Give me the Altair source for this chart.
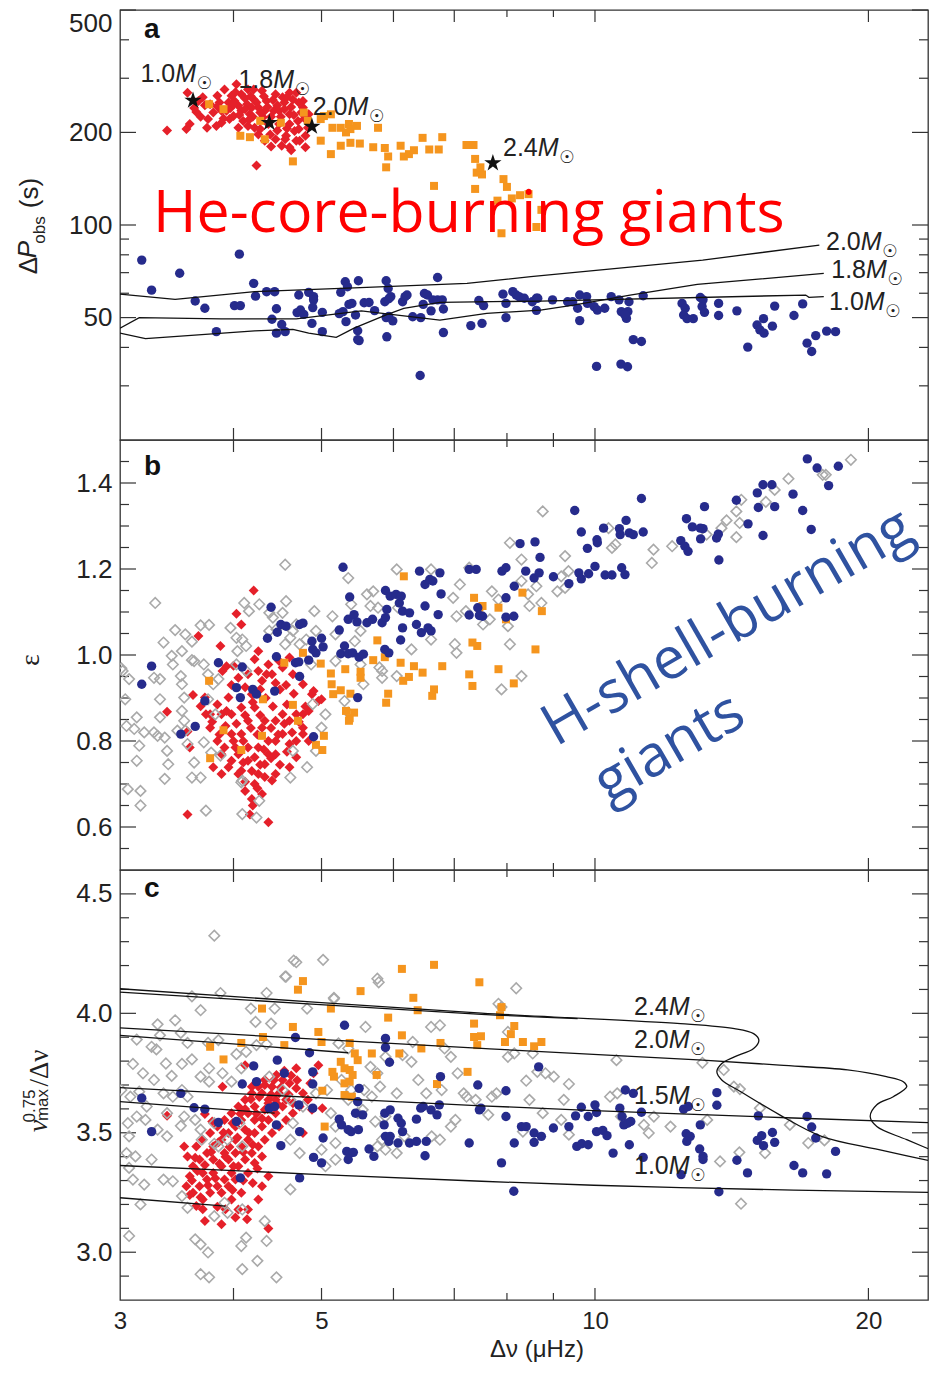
import altair as alt
import pandas as pd

# ---------------------------------------------------------------- sizes
W = 808
HA, HB, HC = 430, 430, 430
DNU_MIN, DNU_MAX = 3.0, 23.26

# ---------------------------------------------------------------- panel a data (Delta nu [muHz], Delta P_obs [s])
A_RED = [(3.38,203),(3.55,205),(3.58,213),(3.56,269),(3.66,253),(3.64,233),(3.75,221),(3.77,247),(3.83,210),(3.84,263),
         (3.88,235),(3.91,276),(3.95,250),(3.98,263),(4.00,226),(4.03,287),(4.05,244),(4.08,266),(4.10,218),(4.14,247),
         (4.15,276),(4.17,229),(4.21,256),(4.22,207),(4.24,156),(4.26,241),(4.30,273),(4.31,224),(4.35,253),(4.39,197),
         (4.43,235),(4.45,266),(4.49,213),(4.52,181),(4.55,250),(4.57,195),(4.61,229),(4.63,175),(4.65,256),(4.67,202),
         (4.71,218),(4.73,188),(4.77,241),(4.80,179),(4.83,207),(3.70,260),(3.93,235),(4.01,253),(4.08,235),(4.19,241),
         (4.33,235),(4.49,235),(4.53,260),(3.88,215),(4.15,210),(4.37,213),(4.61,213),(4.69,188),(4.45,190),(4.26,197),
         (4.05,207),(3.96,221),(4.21,276),(4.61,269),(4.69,269),(4.77,253),(4.84,229),(4.33,188),(4.61,179),(3.74,207),
         (3.62,240),(3.68,225),(3.72,245),(3.80,232),(3.86,250),(3.90,222),(3.97,240),(4.02,270),(4.06,228),(4.12,258),
         (4.12,238),(4.18,262),(4.20,225),(4.24,250),(4.28,232),(4.32,262),(4.36,242),(4.40,225),(4.42,255),(4.47,245),
         (4.51,225),(4.55,238),(4.58,260),(4.63,242),(4.66,228),(4.72,250),(4.75,232),(4.79,222),(3.84,243),(4.00,247),
         (4.16,220),(4.28,205),(4.47,203),(4.58,206),(4.72,205),(4.40,180),(4.56,190),(4.80,195)]
A_ORANGE = [(3.76,247),(3.90,238),(4.07,195),(4.17,193),(4.28,218),(4.33,190),(4.51,215),(4.65,161),(4.78,232),(4.83,218),
            (4.99,188),(5.12,170),(4.99,221),(5.03,226),(5.12,229),(5.14,207),(5.25,207),(5.36,213),(5.38,205),(5.47,210),
            (5.32,200),(5.38,185),(5.51,184),(5.25,181),(5.70,179),(5.77,207),(5.87,178),(5.92,167),(5.89,154),(6.11,181),
            (6.16,167),(6.24,170),(6.32,175),(6.46,192),(6.57,176),(6.65,134),(6.73,176),(6.79,193),(7.22,182),(7.35,182),
            (7.38,164),(7.41,148),(7.51,146),(7.48,154),(7.38,131),(7.93,141),(8.00,133),(8.10,122),(8.27,125),(8.45,126),
            (7.81,120),(7.89,94),(8.73,112),(8.62,98.5)]
A_BLUE = [(3.17,76.9),(3.25,61.4),(3.49,69.7),(3.63,56.6),(3.72,53.6),(3.83,45.0),(4.06,80.4),(4.01,54.7),(4.07,54.7),(4.21,64.6),
          (4.23,58.7),(4.35,60.7),(4.44,60.7),(4.41,49.4),(4.46,53.4),(4.46,44.5),(4.56,45.0),(4.52,47.5),(4.72,59.2),(4.70,51.9),
          (4.74,52.9),(4.78,51.2),(4.84,60.4),(4.90,58.5),(4.90,57.1),(4.89,53.9),(4.88,47.9),(5.01,52.0),(5.01,45.0),(5.23,51.5),
          (5.28,52.3),(5.25,60.4),(5.31,65.4),(5.34,63.0),(5.32,48.5),(5.36,55.2),(5.40,55.6),(5.45,51.0),(5.49,65.9),(5.48,45.3),
          (5.48,42.4),(5.50,42.1),(5.57,55.9),(5.64,56.0),(5.72,52.7),(5.89,65.9),(5.92,62.2),(5.87,56.3),(5.93,57.6),(5.96,58.5),
          (5.89,50.0),(5.93,50.4),(5.99,48.8),(5.90,43.3),(6.14,56.3),(6.18,58.5),(6.21,59.2),(6.30,50.3),(6.43,50.0),(6.42,32.4),
          (6.49,59.9),(6.54,59.2),(6.47,55.2),(6.60,52.6),(6.63,57.1),(6.71,57.1),(6.79,57.1),(6.71,67.5),(6.81,53.3),(6.81,44.7),
          (7.30,47.1),(7.51,47.9),(7.45,56.8),(7.54,54.7),(7.92,59.6),(7.98,55.6),(7.98,50.0),(8.12,60.7),(8.19,59.2),(8.25,58.5),
          (8.36,57.8),(8.53,56.3),(8.62,57.8),(8.62,52.8),(8.65,57.8),(8.98,57.1),(9.33,56.3),(9.45,56.3),(9.57,53.6),(9.62,59.2),
          (9.79,58.5),(9.62,48.9),(9.81,55.6),(9.98,54.3),(10.06,52.9),(10.25,53.6),(10.42,58.5),(10.63,57.1),(10.69,52.3),(10.87,52.3),
          (10.83,49.7),(10.78,51.2),(10.90,56.3),(11.30,58.9),(11.02,42.4),(11.25,41.8),(10.04,34.7),(10.68,35.3),(10.86,34.6),(12.47,55.6),
          (12.57,53.6),(12.52,51.0),(12.63,49.6),(12.83,49.6),(13.06,58.1),(13.15,57.1),(13.12,54.3),(13.20,52.0),(13.68,55.6),(13.68,50.8),
          (14.33,52.6),(14.73,40.1),(15.08,47.3),(15.19,45.6),(15.35,44.5),(15.33,49.6),(15.68,46.9),(15.77,54.5),(16.56,50.8),(16.93,55.4),
          (17.12,41.3),(17.50,43.7),(17.32,38.8),(17.99,45.2),(18.40,45.0)]
A_STARS = [(3.61,254),(4.38,215),(4.88,209),(7.72,159)]
A_STAR_LABELS = [(3.16,310,"1.0"),(4.05,297,"1.8"),(4.89,241,"2.0"),(7.92,178,"2.4")]
A_TRACKS = {
    "2.0": [(3.00,59.6),(3.45,57.3),(4.22,60.7),(5.43,62.5),(7.23,64.6),(8.50,67.9),(13.14,76.9),(17.66,86.0)],
    "1.8": [(3.00,46.2),(3.15,50.0),(3.88,49.5),(4.69,49.5),(5.53,52.6),(6.03,51.0),(6.75,49.1),(7.60,51.6),(8.71,52.9),
            (9.47,54.9),(10.93,59.2),(12.96,64.1),(17.86,69.6)],
    "1.0": [(3.00,44.5),(3.20,42.7),(4.22,45.3),(4.65,45.8),(4.84,44.5),(5.19,43.1),(5.43,46.2),(5.89,51.0),(6.16,53.6),
            (6.75,56.0),(8.71,56.6),(17.06,59.2),(17.20,58.2),(17.86,58.5)],
}
A_TRACK_LABELS = [(17.96,88.1,"2.0"),(18.2,71.5,"1.8"),(18.1,56.3,"1.0")]

# ---------------------------------------------------------------- panel b data (Delta nu, epsilon)
B_GREY = [(4.56,1.210),(3.28,1.121),(3.45,1.058),(3.54,1.048),(3.60,1.031),(3.68,1.069),(3.76,1.070),(3.35,1.029),(3.42,0.998),(3.51,1.009),
          (3.60,0.988),(3.43,0.978),(3.01,0.969),(3.07,0.944),(3.02,0.963),(3.04,0.897),(3.13,0.855),(3.05,0.835),(3.11,0.828),(3.19,0.820),
          (3.15,0.789),(3.13,0.754),(3.06,0.688),(3.16,0.684),(3.16,0.650),(3.27,0.820),(3.30,0.812),(3.27,0.947),(3.32,0.944),(3.32,0.897),
          (3.32,0.855),(3.36,0.808),(3.38,0.777),(3.39,0.746),(3.36,0.712),(3.50,0.951),(3.51,0.932),(3.53,0.901),(3.51,0.870),(3.53,0.847),
          (3.47,0.824),(3.54,0.824),(3.56,0.793),(3.60,0.715),(3.68,0.715),(3.73,0.638),(3.62,0.750),(3.62,0.986),(3.71,0.978),(3.75,0.955),
          (3.80,0.932),(3.85,0.944),(3.75,0.897),(3.82,0.862),(3.71,0.797),(3.78,0.773),(3.87,0.766),(3.97,1.063),(4.03,1.040),(4.09,1.036),
          (4.13,1.021),(4.04,1.009),(4.03,0.978),(4.13,0.963),(4.09,0.708),(4.09,0.630),(4.08,0.704),(4.27,0.661),(4.24,0.622),(4.11,1.121),
          (4.16,1.102),(4.27,1.118),(4.38,1.098),(4.42,1.087),(4.53,1.098),(4.57,1.125),(4.38,1.056),(4.46,1.060),(4.56,1.025),(4.62,1.040),
          (4.65,1.056),(4.69,1.071),(4.73,1.025),(4.81,1.036),(4.91,1.102),(4.93,1.056),(4.87,0.978),(4.89,0.886),(5.05,0.862),(5.00,0.831),
          (4.93,0.777),(4.82,0.739),(4.65,0.777),(4.62,0.715),(5.14,1.090),(5.18,1.048),(5.35,1.179),(5.39,1.118),(5.44,1.032),(5.52,1.056),
          (5.61,1.141),(5.66,1.114),(5.70,1.148),(5.77,1.110),(5.79,0.971),(5.83,0.947),(6.05,1.199),(6.07,1.110),(6.28,1.013),(6.60,1.199),
          (6.60,1.036),(6.98,1.133),(7.04,1.090),(7.10,1.164),(7.27,1.203),(7.21,1.102),(7.01,1.025),(7.04,1.005),(5.18,0.986),(5.30,0.893),
          (5.35,0.866),(5.52,0.978),(5.83,0.963),(6.05,0.951),(5.56,0.932),(7.70,1.148),(7.83,1.129),(8.06,1.261),(8.30,1.222),(8.30,1.172),
          (8.44,1.141),(8.47,1.114),(8.62,1.160),(8.76,1.334),(8.73,1.121),(9.09,1.148),(9.27,1.230),(9.27,1.156),(9.35,1.195),(9.18,1.183),
          (7.53,1.071),(7.66,1.083),(8.02,1.067),(8.06,1.025),(8.30,0.951),(7.89,0.920),(10.35,1.295),(10.44,1.249),(10.53,1.257),(11.55,1.214),
          (11.60,1.245),(12.16,1.253),(13.27,1.280),(13.78,1.295),(13.96,1.313),(14.31,1.334),(14.49,1.361),(14.31,1.274),(14.43,1.307),(15.42,1.356),
          (15.77,1.384),(16.33,1.410),(17.81,1.419),(17.95,1.419),(19.13,1.454)]
B_RED = [(4.21,1.150),(4.03,1.096),(4.08,1.071),(3.66,1.044),(3.87,1.021),(4.26,1.009),(4.22,0.990),(3.93,0.974),(3.89,0.963),(3.38,0.868),
         (3.61,0.907),(3.68,0.881),(3.73,0.862),(3.56,0.822),(3.58,0.785),(3.77,0.831),(3.84,0.800),(3.88,0.769),(3.95,0.739),(4.02,0.785),
         (4.08,0.816),(4.15,0.847),(4.22,0.878),(4.30,0.831),(4.37,0.800),(4.45,0.769),(4.53,0.816),(4.61,0.847),(4.69,0.800),(4.77,0.831),
         (4.84,0.800),(4.05,0.723),(4.15,0.754),(4.26,0.723),(4.33,0.746),(4.41,0.708),(4.12,0.684),(4.19,0.665),(4.30,0.677),(4.17,0.629),
         (4.37,0.611),(3.56,0.629),(3.88,0.862),(3.98,0.862),(4.08,0.878),(4.19,0.909),(4.30,0.940),(4.41,0.955),(4.53,0.971),(4.65,0.955),
         (4.77,0.932),(4.88,0.909),(4.96,0.893),(5.00,0.897),(4.90,0.916),(4.61,0.994),(4.49,0.986),(4.37,0.978),(4.26,0.963),(4.15,0.955),
         (4.05,0.947),(3.95,0.901),(3.84,0.885),(3.77,0.862),(3.72,0.901),(4.77,0.862),(4.69,0.862),(4.84,0.870),(4.61,0.793),(4.45,0.800),
         (4.37,0.769),(4.26,0.785),(3.98,0.816),(3.91,0.785),(4.05,0.769),(3.80,0.739),(3.88,0.723),(3.98,0.754),(4.08,0.731),(4.22,0.762),
         (4.33,0.847),(4.45,0.847),(4.53,0.862),(4.69,0.762),(4.77,0.816),(4.22,0.700),(4.33,0.716),(4.45,0.723),(4.15,0.785),(4.61,0.739),
         (3.79,0.845),(3.86,0.815),(3.92,0.835),(3.93,0.870),(4.00,0.800),(4.03,0.840),(4.10,0.800),(4.12,0.860),(4.18,0.830),(4.20,0.890),
         (4.25,0.815),(4.28,0.860),(4.32,0.780),(4.34,0.900),(4.40,0.830),(4.42,0.880),(4.48,0.815),(4.50,0.920),(4.55,0.840),(4.58,0.885),
         (4.64,0.820),(4.66,0.910),(4.72,0.845),(4.80,0.880),(4.10,0.750),(4.19,0.730),(4.28,0.745),(4.40,0.760),(4.50,0.745),(4.12,0.705),
         (4.25,0.690),(4.20,0.650),(3.98,0.930),(4.12,0.925),(4.28,0.920),(4.45,0.935),(4.57,0.930),(4.35,0.955),(4.00,0.975),(4.58,0.775)]
B_ORANGE = [(3.76,0.940),(3.90,0.825),(3.77,0.760),(4.08,0.779),(4.30,0.812),(4.31,0.897),(4.55,0.982),(4.65,0.884),(4.71,0.847),(4.77,1.005),
            (4.99,0.980),(5.03,0.812),(5.01,0.779),(4.93,0.791),(5.12,0.957),(5.13,0.932),(5.15,0.909),(5.25,0.918),(5.38,0.910),(5.31,0.967),
            (5.32,0.870),(5.36,0.847),(5.43,0.866),(5.37,0.853),(5.52,0.961),(5.52,0.947),(5.70,0.988),(5.76,1.034),(5.87,0.995),(5.89,0.889),
            (5.92,0.910),(6.11,0.982),(6.15,0.940),(6.24,0.949),(6.32,0.974),(6.46,0.959),(6.16,1.183),(6.62,0.905),(6.65,0.920),(6.79,0.974),
            (7.27,0.955),(7.33,0.928),(7.36,1.133),(7.33,1.029),(7.42,1.021),(7.46,1.110),(7.52,1.114),(7.83,1.110),(7.98,1.083),(8.32,1.145),
            (8.74,1.102),(8.60,1.013),(7.83,0.967),(8.14,0.934)]
B_BLUE = [(3.17,0.932),(3.25,0.974),(3.50,0.816),(3.63,0.834),(3.72,0.893),(3.85,0.982),(4.03,0.924),(4.07,0.901),(4.09,0.972),(4.20,0.920),
          (4.24,0.909),(4.36,1.039),(4.40,1.111),(4.44,0.916),(4.46,0.996),(4.47,1.053),(4.51,1.071),(4.57,1.067),(4.68,0.982),(4.72,0.984),
          (4.73,0.950),(4.73,1.071),(4.77,1.074),(4.84,0.988),(4.88,1.032),(4.89,1.013),(4.93,1.005),(4.90,0.810),(5.00,1.039),(5.02,1.019),
          (5.23,1.058),(5.28,1.204),(5.30,1.021),(5.25,1.003),(5.35,1.003),(5.41,1.005),(5.50,0.995),(5.56,1.002),(5.35,1.083),(5.43,1.094),
          (5.47,1.077),(5.37,1.135),(5.48,0.901),(5.61,1.075),(5.69,1.083),(5.83,1.075),(5.90,1.106),(5.88,1.150),(5.88,1.087),(5.87,1.013),
          (5.93,1.005),(5.95,1.137),(6.04,1.141),(6.09,1.121),(6.12,1.137),(6.14,1.102),(6.25,1.098),(6.11,1.035),(6.14,1.063),(6.36,1.071),
          (6.41,1.195),(6.50,1.164),(6.58,1.176),(6.63,1.172),(6.75,1.191),(6.50,1.114),(6.44,1.052),(6.55,1.063),(6.60,1.056),(6.72,1.094),
          (6.77,1.142),(7.27,1.199),(7.27,1.093),(7.43,1.110),(7.40,1.199),(7.52,1.090),(7.46,1.092),(7.90,1.195),(7.98,1.203),(7.98,1.133),
          (7.98,1.088),(8.14,1.090),(8.15,1.160),(8.27,1.259),(8.59,1.263),(8.39,1.195),(8.57,1.179),(8.68,1.191),(8.70,1.227),(9.00,1.182),
          (9.36,1.166),(9.50,1.336),(9.60,1.191),(9.66,1.177),(9.84,1.189),(9.66,1.286),(9.81,1.248),(10.00,1.206),(10.05,1.268),(10.06,1.261),
          (10.22,1.295),(10.26,1.186),(10.44,1.186),(10.64,1.294),(10.66,1.280),(10.82,1.313),(10.91,1.284),(11.02,1.280),(10.70,1.203),(10.79,1.187),
          (11.25,1.364),(11.30,1.286),(12.43,1.266),(12.56,1.253),(12.66,1.241),(12.61,1.317),(12.80,1.298),(13.06,1.295),(13.15,1.294),(13.07,1.270),
          (13.20,1.345),(13.61,1.272),(13.67,1.281),(13.69,1.221),(14.31,1.360),(14.74,1.305),(15.09,1.377),(15.31,1.396),(15.66,1.396),(15.13,1.343),
          (15.77,1.345),(15.31,1.278),(16.52,1.374),(16.93,1.336),(17.13,1.456),(17.56,1.435),(18.53,1.439),(17.30,1.292),(18.08,1.394)]

# ---------------------------------------------------------------- panel c data (Delta nu, numax^0.75 / Delta nu)
C_GREY = [(3.81,4.325),(4.66,4.221),(5.02,4.224),(4.56,4.154),(5.76,4.145),(5.78,4.130),(3.60,4.071),(3.68,4.013),(3.87,4.085),(4.18,4.020),
          (4.23,3.964),(4.35,4.085),(4.40,3.957),(4.44,4.020),(4.82,4.020),(5.16,4.065),(3.30,3.954),(3.45,3.971),(3.50,3.918),(3.32,3.908),
          (3.13,3.890),(3.25,3.860),(3.29,3.849),(3.56,3.876),(3.75,3.876),(3.85,3.888),(4.03,3.829),(4.13,3.839),(4.24,3.867),(4.35,3.871),
          (3.10,3.788),(3.18,3.749),(3.27,3.721),(3.37,3.790),(3.42,3.738),(3.51,3.788),(3.60,3.807),(3.68,3.735),(3.76,3.770),(3.76,3.714),
          (3.89,3.749),(3.98,3.714),(4.08,3.770),(3.01,3.679),(3.08,3.651),(3.15,3.672),(3.21,3.610),(3.35,3.665),(3.43,3.651),(3.51,3.679),
          (3.56,3.651),(3.06,3.540),(3.13,3.568),(3.07,3.485),(3.20,3.554),(3.30,3.513),(3.38,3.485),(3.38,3.582),(3.50,3.529),(3.53,3.568),
          (3.63,3.554),(3.68,3.513),(3.81,3.540),(3.69,3.471),(3.81,3.454),(3.85,3.443),(3.94,3.471),(4.09,3.443),(4.06,3.540),(3.05,3.415),
          (3.12,3.401),(3.07,3.353),(3.10,3.304),(3.19,3.283),(3.16,3.200),(3.07,3.068),(3.25,3.388),(3.35,3.304),(3.43,3.297),(3.51,3.235),
          (3.56,3.186),(3.63,3.054),(3.68,3.033),(3.75,2.999),(3.81,3.151),(3.91,3.207),(3.94,3.165),(4.09,3.179),(4.08,3.026),(4.13,3.061),
          (4.25,2.964),(4.09,2.929),(3.68,2.908),(3.76,2.895),(4.46,2.895),(4.35,3.047),(4.33,3.130),(4.62,3.263),(4.38,3.735),(4.53,3.679),
          (4.62,3.638),(4.65,3.540),(4.62,3.471),(4.73,3.415),(4.77,3.610),(4.93,3.665),(5.07,3.679),(5.12,3.582),(5.18,3.526),(5.18,3.457),
          (5.00,3.429),(5.18,3.388),(5.05,3.360),(5.26,3.721),(5.39,3.679),(5.35,3.638),(5.48,3.582),(5.55,3.596),(5.57,3.679),(5.68,3.651),
          (5.76,3.749),(5.80,3.693),(5.73,3.547),(5.88,3.568),(5.83,3.471),(5.76,3.443),(5.88,3.429),(6.05,3.415),(6.17,3.485),(6.05,3.665),
          (6.28,3.797),(6.39,3.721),(6.52,3.665),(6.78,3.679),(6.75,3.471),(6.61,3.485),(6.94,3.526),(7.02,3.554),(7.17,3.665),(7.22,3.651),
          (5.22,3.874),(5.35,3.853),(5.59,3.943),(5.66,3.776),(5.88,3.818),(6.14,3.825),(6.30,3.880),(6.60,3.943),(6.75,3.950),(6.83,3.853),
          (6.94,3.818),(7.06,3.749),(5.16,4.061),(8.19,4.105),(7.83,4.040),(7.89,4.026),(8.02,3.922),(8.15,3.832),(8.02,3.818),(8.54,3.832),
          (8.40,3.718),(8.64,3.755),(8.82,3.749),(9.01,3.735),(9.36,3.704),(9.24,3.638),(8.76,3.582),(9.18,3.554),(9.36,3.492),(8.47,3.638),
          (8.33,3.505),(7.63,3.575),(7.70,3.651),(7.79,3.665),(7.39,3.638),(10.56,3.804),(10.39,3.651),(10.58,3.665),(10.68,3.568),(11.32,3.533),
          (11.46,3.499),(11.61,3.568),(12.11,3.526),(13.13,3.793),(13.29,3.554),(13.86,3.763),(14.22,3.693),(14.44,3.683),(15.19,3.603),(16.39,3.533),
          (17.17,3.457),(17.89,3.468),(13.73,3.380),(14.42,3.418),(15.39,3.415),(14.48,3.203),(4.69,4.214),(4.57,4.154)]
C_RED = [(4.12,3.783),(4.19,3.693),(4.69,3.770),(4.96,3.783),(4.90,3.749),(3.89,3.693),(3.38,3.571),(3.72,3.579),(3.79,3.547),
         (4.46,3.742),(4.53,3.721),(4.61,3.707),(4.69,3.686),(4.77,3.665),(4.83,3.638),(4.73,3.610),(4.65,3.582),(4.57,3.554),(4.49,3.526),
         (4.41,3.499),(4.33,3.471),(4.26,3.443),(4.19,3.415),(4.12,3.388),(4.05,3.360),(3.98,3.332),(3.91,3.304),(3.84,3.276),(3.77,3.249),
         (3.70,3.221),(3.64,3.193),(4.30,3.665),(4.37,3.638),(4.22,3.610),(4.15,3.582),(4.08,3.554),(4.02,3.526),(3.95,3.499),(3.88,3.471),
         (3.80,3.443),(3.74,3.415),(3.67,3.388),(3.61,3.360),(3.58,3.318),(3.55,3.276),(3.53,3.443),(3.56,3.401),(3.64,3.443),(3.70,3.471),
         (3.77,3.499),(3.84,3.526),(3.91,3.554),(3.98,3.582),(4.05,3.610),(4.12,3.638),(4.19,3.665),(4.26,3.693),(4.33,3.721),(4.41,3.693),
         (4.49,3.665),(4.57,3.638),(4.65,3.624),(4.53,3.610),(4.45,3.582),(4.37,3.554),(4.30,3.526),(4.22,3.499),(4.15,3.471),(4.08,3.443),
         (4.02,3.415),(3.95,3.388),(3.88,3.360),(3.80,3.332),(3.74,3.304),(3.67,3.276),(3.61,3.249),(3.70,3.332),(3.80,3.388),(3.91,3.415),
         (4.02,3.471),(4.12,3.513),(4.22,3.554),(4.33,3.596),(4.45,3.638),(3.88,3.249),(3.95,3.276),(4.02,3.304),(3.98,3.221),(4.08,3.249),
         (4.15,3.332),(4.22,3.374),(4.30,3.401),(4.05,3.179),(4.15,3.179),(4.30,3.276),(4.37,3.318),(4.26,3.221),(3.72,3.131),(3.88,3.117),
         (4.02,3.145),(4.14,3.138),(4.37,3.099),(4.77,3.499),(4.88,3.596),(5.01,3.603),(4.86,3.707),(4.37,3.624),(3.63,3.395),
         (3.60,3.300),(3.65,3.340),(3.68,3.230),(3.72,3.365),(3.75,3.280),(3.78,3.420),(3.82,3.310),(3.85,3.460),(3.86,3.370),(3.90,3.500),
         (3.92,3.400),(3.96,3.440),(3.99,3.540),(4.00,3.360),(4.04,3.480),(4.07,3.580),(4.10,3.420),(4.12,3.600),(4.16,3.500),(4.18,3.640),
         (4.20,3.450),(4.24,3.580),(4.27,3.650),(4.30,3.560),(4.33,3.700),(4.36,3.600),(4.40,3.660),(4.43,3.720),(4.47,3.620),(4.51,3.690),
         (4.55,3.760),(4.60,3.660),(4.63,3.740),(4.70,3.720),(3.92,3.180),(3.99,3.260),(4.10,3.300),(4.20,3.290),(4.25,3.350),(3.84,3.190),
         (3.70,3.180),(3.58,3.240)]
C_ORANGE = [(3.77,3.860),(3.90,3.807),(4.30,4.020),(4.31,3.901),(4.08,3.876),(4.65,3.943),(4.55,3.867),(4.71,4.099),(4.77,4.135),(4.96,3.922),
            (5.00,3.880),(5.01,3.676),(5.04,3.526),(5.12,4.020),(5.14,3.755),(5.16,3.735),(5.25,3.797),(5.30,3.770),(5.37,3.763),(5.41,3.742),
            (5.30,3.707),(5.37,3.714),(5.40,3.651),(5.30,3.658),(5.37,3.876),(5.44,3.832),(5.48,3.804),(5.52,4.093),(5.68,3.832),(5.75,3.742),
            (5.92,3.982),(6.09,3.832),(6.13,3.908),(6.13,4.186),(6.31,4.065),(6.38,4.013),(6.44,3.853),(6.65,4.203),(6.76,3.876),(6.70,3.704),
            (7.24,3.755),(7.36,3.957),(7.36,3.901),(7.42,3.867),(7.46,4.130),(7.89,4.026),(7.86,3.992),(7.49,3.904),(7.96,3.880),(8.08,3.913),
            (8.15,3.947),(8.33,3.880),(8.57,3.862),(8.73,3.880)]
C_BLUE = [(3.17,3.645),(3.25,3.505),(3.50,3.665),(3.62,3.605),(3.72,3.599),(3.85,3.543),(4.03,3.547),(4.09,3.704),(4.07,3.311),(4.21,3.780),
          (4.24,3.714),(4.38,3.603),(4.44,3.610),(4.47,3.804),(4.55,3.749),(4.46,3.533),(4.51,3.446),(4.68,3.899),(4.72,3.617),(4.73,3.505),
          (4.73,3.311),(4.85,3.835),(4.89,3.755),(4.89,3.704),(4.89,3.603),(4.90,3.397),(5.02,3.478),(5.00,3.374),(5.30,3.950),(5.23,3.557),
          (5.26,3.533),(5.35,3.513),(5.39,3.505),(5.49,3.513),(5.33,3.422),(5.37,3.415),(5.42,3.418),(5.35,3.388),(5.50,3.686),(5.48,3.630),
          (5.45,3.582),(5.55,3.575),(5.64,3.432),(5.71,3.401),(5.88,3.895),(5.88,3.857),(5.94,3.795),(5.86,3.533),(5.88,3.485),(5.93,3.464),
          (5.95,3.485),(5.87,3.582),(5.95,3.596),(6.07,3.561),(6.12,3.540),(6.14,3.505),(6.07,3.457),(6.25,3.457),(6.36,3.464),(6.36,3.557),
          (6.43,3.603),(6.47,3.610),(6.50,3.404),(6.52,3.464),(6.60,3.596),(6.70,3.575),(6.74,3.617),(6.76,3.735),(7.27,3.457),(7.43,3.700),
          (7.46,3.596),(7.49,3.603),(7.89,3.374),(7.98,3.676),(7.98,3.568),(8.15,3.457),(8.14,3.255),(8.30,3.526),(8.40,3.526),(8.57,3.499),
          (8.57,3.460),(8.73,3.485),(8.67,3.776),(9.00,3.520),(9.36,3.526),(9.52,3.571),(9.55,3.443),(9.67,3.454),(9.83,3.450),(9.66,3.607),
          (9.83,3.568),(10.00,3.617),(10.04,3.585),(10.04,3.505),(10.20,3.510),(10.31,3.488),(10.47,3.415),(10.65,3.603),(10.71,3.568),(10.76,3.533),
          (10.86,3.540),(10.95,3.547),(10.80,3.679),(11.02,3.665),(10.91,3.450),(11.25,3.586),(11.30,3.397),(12.44,3.325),(12.52,3.599),(12.67,3.610),
          (12.60,3.496),(12.73,3.485),(12.62,3.464),(13.04,3.432),(13.15,3.401),(13.15,3.388),(13.06,3.533),(13.62,3.668),(13.62,3.615),(13.69,3.253),
          (14.33,3.385),(14.72,3.332),(15.13,3.571),(15.09,3.468),(15.26,3.488),(15.33,3.446),(15.68,3.501),(15.77,3.460),(16.56,3.363),(16.93,3.332),
          (17.12,3.568),(17.32,3.524),(17.50,3.478),(17.99,3.328),(18.40,3.422)]
C_TRACKS = {
    "2.4": [(3.00,4.103),(7.50,4.001),(12.42,3.957),(14.24,3.936),(14.95,3.915),(15.15,3.888),(14.95,3.853),(14.24,3.818),
            (13.79,3.790),(13.62,3.755),(13.79,3.721),(14.47,3.672),(15.97,3.575),(17.76,3.485),(20.54,3.429),(24.35,3.368)],
    "2.4b": [(3.00,4.089),(7.50,3.996),(9.57,3.978)],
    "2.0": [(3.00,3.939),(7.50,3.853),(13.14,3.804),(15.97,3.783),(18.97,3.763),(20.93,3.735),(21.85,3.714),(22.04,3.693),
            (21.30,3.651),(20.43,3.617),(20.09,3.568),(20.43,3.526),(22.04,3.471),(24.35,3.402)],
    "2.0b": [(3.00,3.908),(5.35,3.835)],
    "1.5": [(3.00,3.689),(7.50,3.613),(12.42,3.579),(24.35,3.540)],
    "1.5b": [(3.00,3.630),(4.44,3.582)],
    "1.0": [(3.00,3.363),(7.50,3.297),(12.42,3.270),(24.35,3.249)],
    "1.0b": [(3.00,3.228),(3.92,3.193)],
}
C_TRACK_LABELS = [(11.04,4.026,"2.4"),(11.04,3.890,"2.0"),(11.04,3.656,"1.5"),(11.04,3.359,"1.0")]

# ---------------------------------------------------------------- ticks
X_MAJOR, X_MINOR, X_LABELS = [4, 5, 6, 7, 10, 20], [8, 9], [3, 5, 10, 20]
A_LAB, A_MINOR = [50, 100, 200, 500], [30, 40, 60, 70, 80, 90, 300, 400]
B_LAB = [0.6, 0.8, 1.0, 1.2, 1.4]
B_MINOR = [0.55, 0.65, 0.7, 0.75, 0.85, 0.9, 0.95, 1.05, 1.1, 1.15, 1.25, 1.3, 1.35, 1.45]
C_LAB = [3.0, 3.5, 4.0, 4.5]
C_MINOR = [2.9, 3.1, 3.2, 3.3, 3.4, 3.6, 3.7, 3.8, 3.9, 4.1, 4.2, 4.3, 4.4]

# ---------------------------------------------------------------- styles
RED, ORANGE, NAVY, GREY = "#e5202a", "#f5951e", "#262b8c", "#a9a9a9"
INK, AXC = "#222222", "#333333"
SANS = "Liberation Sans"
STAR = ("M0,-1L0.2245,-0.309L0.951,-0.309L0.363,0.118L0.588,0.809L0,0.382"
        "L-0.588,0.809L-0.363,0.118L-0.951,-0.309L-0.2245,-0.309Z")

xscale = alt.Scale(type="log", domain=[DNU_MIN, DNU_MAX], nice=False)
ys_a = alt.Scale(type="log", domain=[20, 500], nice=False)
ys_b = alt.Scale(domain=[0.5, 1.5], nice=False, zero=False)
ys_c = alt.Scale(domain=[2.8, 4.6], nice=False, zero=False)


def frame(pairs):
    return pd.DataFrame(pairs, columns=["dnu", "v"])


def enc(ys):
    return dict(x=alt.X("dnu:Q", scale=xscale, axis=None),
                y=alt.Y("v:Q", scale=ys, axis=None))


def pts(pairs, ys, **mark):
    return alt.Chart(frame(pairs)).mark_point(opacity=1, clip=True, **mark).encode(**enc(ys))


def grey(pairs, ys):
    return pts(pairs, ys, shape="diamond", filled=False, size=110, strokeWidth=1.6, color=GREY)


def red(pairs, ys):
    return pts(pairs, ys, shape="diamond", filled=True, size=100, color=RED)


def orange(pairs, ys):
    return pts(pairs, ys, shape="square", filled=True, size=64, color=ORANGE)


def blue(pairs, ys):
    return pts(pairs, ys, shape="circle", filled=True, size=88, color=NAVY)


def tracks(named, ys, interp):
    rows = []
    for name, seq in named.items():
        for i, (x, y) in enumerate(seq):
            rows.append({"dnu": x, "v": y, "track": name, "i": i})
    return alt.Chart(pd.DataFrame(rows)).mark_line(
        color="#111111", strokeWidth=1.3, clip=True, interpolate=interp
    ).encode(**enc(ys), detail="track:N", order="i:Q")


def mass_labels(items, ys, fs=25):
    base = alt.Chart(pd.DataFrame(items, columns=["dnu", "v", "num"])).encode(**enc(ys))
    num = base.mark_text(align="left", baseline="middle", font=SANS, fontSize=fs, color=INK).encode(text="num:N")
    m = base.mark_text(align="left", baseline="middle", font=SANS, fontStyle="italic", fontSize=fs,
                       color=INK, dx=fs * 1.39, text="M")
    sun = base.mark_text(align="left", baseline="middle", font="DejaVu Sans", fontSize=fs * 0.7,
                         color=INK, dx=fs * 2.25, dy=fs * 0.4, text="\u2609")
    return [num, m, sun]


def note(txt, x, y, **kw):
    return alt.Chart(pd.DataFrame({"t": [0]})).mark_text(text=txt, **kw).encode(
        x=alt.value(x), y=alt.value(y))


def xticks(values, y0, y1):
    return alt.Chart(pd.DataFrame({"t": values})).mark_rule(color=AXC, strokeWidth=1.2).encode(
        x=alt.X("t:Q", scale=xscale, axis=None), y=alt.value(y0), y2=alt.value(y1))


def yticks(values, ys, x0, x1):
    return alt.Chart(pd.DataFrame({"t": values})).mark_rule(color=AXC, strokeWidth=1.2).encode(
        y=alt.Y("t:Q", scale=ys, axis=None), x=alt.value(x0), x2=alt.value(x1))


def labels_ax(orient, values, fmt, fs, pad, flush=False):
    return alt.Axis(orient=orient, values=values, format=fmt, ticks=False, tickSize=0, labels=True,
                    labelFont=SANS, labelFontSize=fs, labelColor=INK, labelPadding=pad,
                    labelFlush=flush, labelOverlap=False, grid=False, domain=False,
                    minExtent=0, title=None)


def panel(ys, h, yval, lab_vals, fmt, minor_vals, layers, bottom_labels=False, flush=False):
    xaxis = labels_ax("bottom", X_LABELS, ".0f", 24, 9) if bottom_labels else None
    carrier = alt.Chart(pd.DataFrame({"dnu": [3.0], "v": [yval]})).mark_point(opacity=0, size=1).encode(
        x=alt.X("dnu:Q", scale=xscale, axis=xaxis),
        y=alt.Y("v:Q", scale=ys, axis=labels_ax("left", lab_vals, fmt, 26, 8, flush)))
    tick_layers = [
        xticks(X_MAJOR, 0, 12), xticks(X_MINOR, 0, 7),
        xticks(X_MAJOR, h - 12, h), xticks(X_MINOR, h - 7, h),
        yticks(lab_vals, ys, 0, 16), yticks(minor_vals, ys, 0, 9),
        yticks(lab_vals, ys, W - 16, W), yticks(minor_vals, ys, W - 9, W),
    ]
    return alt.layer(carrier, *tick_layers, *layers).resolve_axis(
        x="independent", y="independent").properties(width=W, height=h)


ROT = dict(angle=270, align="center", baseline="middle", color=INK)

# ---------------------------------------------------------------- panel a
layers_a = [
    alt.Chart(pd.DataFrame({"t": [0]})).mark_rule(strokeOpacity=0).encode(
        x=alt.value(-111), y=alt.value(2), y2=alt.value(HA - 2)),
    red(A_RED, ys_a), orange(A_ORANGE, ys_a), blue(A_BLUE, ys_a),
    tracks(A_TRACKS, ys_a, "linear"),
    pts(A_STARS, ys_a, shape=STAR, filled=True, size=330, color="#111111"),
    *mass_labels(A_STAR_LABELS, ys_a),
    *mass_labels(A_TRACK_LABELS, ys_a),
    note("a", 24, 28, font=SANS, fontWeight="bold", fontSize=28, align="left", baseline="alphabetic", color="#111111"),
    note("\u0394", -91.5, 255.5, font=SANS, fontSize=26, **ROT),
    note("P", -92, 239.5, font=SANS, fontSize=26, fontStyle="italic", **ROT),
    note("obs", -80.5, 220, font=SANS, fontSize=17, **ROT),
    note("(s)", -90, 183, font=SANS, fontSize=26, **ROT),
    note("He-core-burning giants", 33, 222, font="Open Sans", fontSize=59, color="#ff0000",
         align="left", baseline="alphabetic"),
]
pa = panel(ys_a, HA, 100, A_LAB, ".0f", A_MINOR, layers_a, flush=True)

# ---------------------------------------------------------------- panel b
layers_b = [
    red(B_RED, ys_b), grey(B_GREY, ys_b), orange(B_ORANGE, ys_b), blue(B_BLUE, ys_b),
    note("b", 24, 35, font=SANS, fontWeight="bold", fontSize=28, align="left", baseline="alphabetic", color="#111111"),
    note("\u03b5", -89, 220, font="Liberation Serif", fontSize=28, **ROT),
    note("H-shell-burning", 436, 307, font="Open Sans", fontSize=58, color="#2f52a0",
         angle=330, align="left", baseline="alphabetic"),
    note("giants", 488, 364, font="Open Sans", fontSize=58, color="#2f52a0",
         angle=330, align="left", baseline="alphabetic"),
]
pb = panel(ys_b, HB, 1.0, B_LAB, ".1f", B_MINOR, layers_b)

# ---------------------------------------------------------------- panel c
layers_c = [
    red(C_RED, ys_c), grey(C_GREY, ys_c), orange(C_ORANGE, ys_c), blue(C_BLUE, ys_c),
    tracks(C_TRACKS, ys_c, "catmull-rom"),
    *mass_labels(C_TRACK_LABELS, ys_c),
    note("c", 24, 27, font=SANS, fontWeight="bold", fontSize=28, align="left", baseline="alphabetic", color="#111111"),
    note("\u03bd", -81.5, 256, font="Liberation Serif", fontStyle="italic", fontSize=28, **ROT),
    note("0.75", -90, 236, font=SANS, fontSize=17, **ROT),
    note("max", -77, 235, font=SANS, fontSize=17, **ROT),
    note("/\u0394\u03bd", -80.5, 198, font="Liberation Serif", fontSize=27, **ROT),
    note("\u0394\u03bd (\u03bcHz)", 417, 480, font=SANS, fontSize=24, align="center", baseline="middle", color=INK),
]
pc = panel(ys_c, HC, 4.0, C_LAB, ".1f", C_MINOR, layers_c, bottom_labels=True)

chart = alt.vconcat(pa, pb, pc, spacing=0, bounds="flush").properties(
    padding={"left": 0, "right": 0, "top": 0, "bottom": 0},
    background="white",
).configure_view(stroke=AXC, strokeWidth=1.3)

chart.save("out.html", embed_options={"renderer": "svg", "actions": False})
